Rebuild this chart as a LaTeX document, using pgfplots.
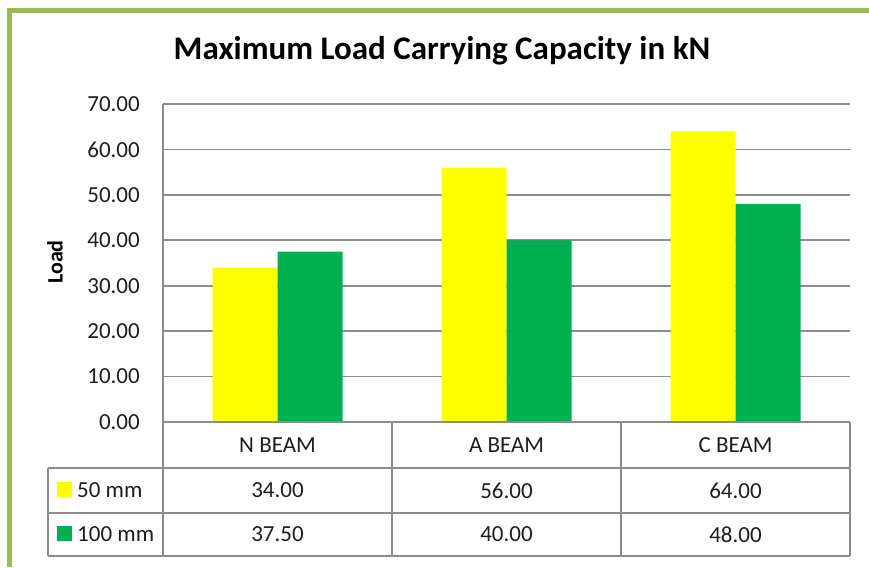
\documentclass[border=0pt]{standalone}
\usepackage{fontspec}
\setmainfont{Carlito}
\usepackage{pgfplots}
\pgfplotsset{compat=1.18}
\definecolor{bordergreen}{HTML}{9BBB59}
\definecolor{baryellow}{HTML}{FFFF00}
\definecolor{bargreen}{HTML}{00B050}
\definecolor{gridgray}{HTML}{8C8C8C}
\definecolor{txt}{HTML}{1E1E1E}
\begin{document}
\begin{tikzpicture}
\begin{scope}[x=1pt,y=1pt]
\useasboundingbox (0,0) rectangle (869,567);
\fill[white] (0,0) rectangle (869,567);
% outer border
\draw[bordergreen, line width=4.5pt] (9.5,0) -- (9.5,556.5) -- (869,556.5);
% title
\node[anchor=base, font=\fontsize{33}{38}\bfseries\selectfont, text=black] at (442,507) {Maximum Load Carrying Capacity in kN};
% y label
\node[rotate=90, font=\fontsize{22}{26}\bfseries\selectfont, text=black] at (55,305) {Load};
\end{scope}
\begin{axis}[
  at={(163pt,145pt)}, anchor=south west,
  width=687pt, height=318pt, scale only axis,
  xmin=-0.5, xmax=2.5, ymin=0, ymax=70,
  xtick=\empty,
  ytick={0,10,...,70},
  ymajorgrids,
  grid style={gridgray, line width=1.6pt},
  axis line style={draw=none},
  major tick length=0pt,
  yticklabel style={/pgf/number format/fixed, /pgf/number format/fixed zerofill, /pgf/number format/precision=2, /pgf/number format/assume math mode=true},
  yticklabel style={font=\fontsize{23}{27}\selectfont, text=txt, anchor=east, inner sep=0pt, xshift=-23pt},
  clip=false,
]
\addplot[ybar, bar width=65pt, bar shift=-32.5pt, fill=baryellow, draw=none] coordinates {(0,34) (1,56) (2,64)};
\addplot[ybar, bar width=65pt, bar shift=32.5pt, fill=bargreen, draw=none] coordinates {(0,37.5) (1,40) (2,48)};
\end{axis}
\begin{scope}[x=1pt,y=1pt]
% table lines (y = 567 - pixel y)
\begin{scope}[gridgray, line width=1.6pt]
\draw (163,463) -- (163,11);
\draw (163,145) -- (850,145);
\draw (48,99) -- (850,99);
\draw (48,54) -- (850,54);
\draw (48,11) -- (850,11);
\draw (48,99) -- (48,11);
\draw (392,145) -- (392,11);
\draw (621,145) -- (621,11);
\draw (850,145) -- (850,11);
\end{scope}
\begin{scope}[font=\fontsize{23}{27}\selectfont, text=txt]
\node at (277.5,122) {N BEAM};
\node at (506.5,122) {A BEAM};
\node at (735.5,122) {C BEAM};
\node at (277.5,76.5) {34.00};
\node at (506.5,76.5) {56.00};
\node at (735.5,76.5) {64.00};
\node at (277.5,32.5) {37.50};
\node at (506.5,32.5) {40.00};
\node at (735.5,32.5) {48.00};
\fill[baryellow] (57,70) rectangle (72,85);
\fill[bargreen] (57,26) rectangle (72,41);
\node[anchor=west, inner sep=0pt] at (77,76.5) {50 mm};
\node[anchor=west, inner sep=0pt] at (77,32.5) {100 mm};
\end{scope}
\end{scope}
\end{tikzpicture}
\end{document}
